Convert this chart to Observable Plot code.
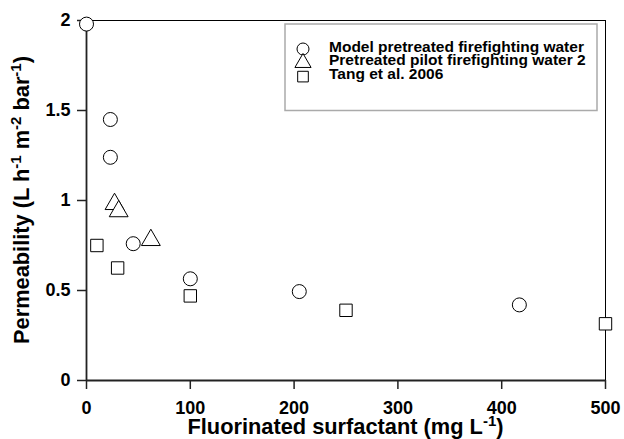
<!DOCTYPE html>
<html><head><meta charset="utf-8">
<script src="https://cdn.jsdelivr.net/npm/d3@7"></script>
<script src="https://cdn.jsdelivr.net/npm/@observablehq/plot@0.6"></script>
<style>html,body{margin:0;padding:0;background:#fff}</style>
</head><body><div id="chart"></div>
<script>
const seriesNames = ["Model pretreated firefighting water", "Pretreated pilot firefighting water 2", "Tang et al. 2006"];
const seriesSymbols = ["circle", "triangle", "square"];
const modelX = [0, 23, 23, 45, 100, 205, 417];
const modelY = [1.98, 1.45, 1.24, 0.76, 0.565, 0.494, 0.42];
const pilotX = [27, 31, 62];
const pilotY = [0.98, 0.94, 0.78];
const tangX = [10, 30, 100, 250, 500];
const tangY = [0.75, 0.625, 0.47, 0.39, 0.315];
const xTicks = [0, 100, 200, 300, 400, 500];
const yTicks = [0, 0.5, 1, 1.5, 2];
const yTickLabels = ["0", "0.5", "1", "1.5", "2"];
const xDomain = [0, 500];
const yDomain = [0, 2];
const xTitle = ["Fluorinated surfactant (mg L", "-1", ")"];
const yTitle = ["Permeability (L h", "-1", " m", "-2", " bar", "-1", ")"];

const data = [
  ...modelX.map((x, i) => ({x, y: modelY[i], s: seriesNames[0]})),
  ...pilotX.map((x, i) => ({x, y: pilotY[i], s: seriesNames[1]})),
  ...tangX.map((x, i) => ({x, y: tangY[i], s: seriesNames[2]}))
];

const W = 624, H = 439;
const mL = 86, mR = 19, mT = 20, mB = 59;
const font = "'Liberation Sans', Arial, Helvetica, sans-serif";

const plot = Plot.plot({
  width: W, height: H,
  marginLeft: mL, marginRight: mR, marginTop: mT, marginBottom: mB,
  style: {fontFamily: font, fontSize: "18px", fontWeight: "bold", color: "#000", background: "white"},
  x: {domain: xDomain, label: null},
  y: {domain: yDomain, label: null},
  symbol: {domain: seriesNames, range: seriesSymbols},
  marks: [
    Plot.frame({stroke: "#000", strokeWidth: 1}),
    Plot.axisX({ticks: xTicks, tickSize: 9, tickPadding: 12, label: null, strokeWidth: 1.5, stroke: "#222"}),
    Plot.axisY({ticks: yTicks, tickSize: 9, tickPadding: 7, label: null, strokeWidth: 1.5, stroke: "#222",
      tickFormat: d => yTickLabels[yTicks.indexOf(d)]}),
    Plot.ruleX([xDomain[0]], {stroke: "#222", strokeWidth: 1.8}),
    Plot.ruleY([yDomain[0]], {stroke: "#222", strokeWidth: 1.8}),
    Plot.dot(data, {x: "x", y: "y", symbol: "s", r: 7, fill: "white", stroke: "#000", strokeWidth: 1})
  ]
});

document.getElementById("chart").appendChild(plot);
const svg = d3.select(plot);

function addTitle(parts, attrs) {
  const t = svg.append("text")
    .attr("text-anchor", "middle")
    .attr("fill", "#000")
    .style("font-family", font)
    .style("font-size", "21.8px")
    .style("font-weight", "bold");
  for (const [k, v] of Object.entries(attrs)) t.attr(k, v);
  parts.forEach((p, i) => {
    const sup = i % 2 === 1;
    const ts = t.append("tspan").text(p);
    if (sup) ts.style("font-size", "15px").attr("dy", -8);
    else if (i > 0) ts.attr("dy", 8);
  });
}
addTitle(xTitle, {x: (mL + W - mR) / 2, y: 434});
addTitle(yTitle, {x: -(mT + H - mB) / 2, y: 29, transform: "rotate(-90)"});

// legend
const lg = svg.append("g").attr("transform", "translate(285,24)");
lg.append("rect").attr("width", 312).attr("height", 86.5)
  .attr("fill", "white").attr("stroke", "#aaa").attr("stroke-width", 1.5);
const symMap = {circle: d3.symbolCircle, triangle: d3.symbolTriangle, square: d3.symbolSquare};
seriesNames.forEach((name, i) => {
  const cy = 25 + i * 13.8;
  lg.append("path")
    .attr("transform", `translate(18,${cy})`)
    .attr("d", d3.symbol(symMap[seriesSymbols[i]], Math.PI * 36)())
    .attr("fill", "white").attr("stroke", "#000").attr("stroke-width", 1);
  lg.append("text").attr("x", 44).attr("y", cy + 2.5)
    .attr("text-anchor", "start")
    .attr("fill", "#000")
    .style("font-family", font).style("font-size", "15.5px").style("font-weight", "bold")
    .text(name);
});
</script>
</body></html>
